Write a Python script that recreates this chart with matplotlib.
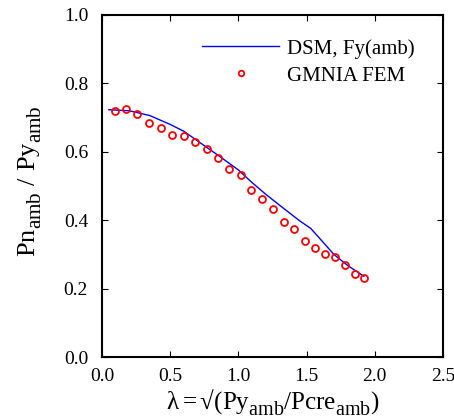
import matplotlib
matplotlib.use("Agg")
import matplotlib.pyplot as plt
import matplotlib._mathtext as _mt

plt.rcParams['font.family'] = ['Liberation Serif', 'DejaVu Serif']
plt.rcParams['mathtext.fontset'] = 'custom'
plt.rcParams['mathtext.rm'] = 'Liberation Serif'
plt.rcParams['mathtext.it'] = 'Liberation Serif'
# larger, lower subscripts (MATLAB-like)
try:
    _mt.SHRINK_FACTOR = 0.8
    _mt.FontConstantsBase.sub1 = 0.55
except Exception:
    pass

dsm_lam = [0.05, 0.2, 0.35, 0.5, 0.6, 0.7, 0.85, 1.0, 1.1, 1.2, 1.33, 1.45, 1.53, 1.6, 1.7, 1.8, 1.92]
dsm_val = [0.723, 0.720, 0.706, 0.680, 0.660, 0.632, 0.590, 0.547, 0.510, 0.476, 0.435, 0.398, 0.376, 0.345, 0.300, 0.268, 0.236]

fem_lam = [0.095, 0.176, 0.26, 0.347, 0.43, 0.516, 0.60, 0.684, 0.77, 0.85, 0.934, 1.017, 1.095,
           1.175, 1.254, 1.332, 1.41, 1.488, 1.56, 1.635, 1.706, 1.78, 1.852, 1.92]
fem_val = [0.720, 0.724, 0.710, 0.683, 0.670, 0.649, 0.646, 0.630, 0.607, 0.582, 0.551, 0.532, 0.489,
           0.461, 0.432, 0.396, 0.374, 0.340, 0.319, 0.301, 0.292, 0.268, 0.243, 0.230]

xticks = [0.0, 0.5, 1.0, 1.5, 2.0, 2.5]
yticks = [0.0, 0.2, 0.4, 0.6, 0.8, 1.0]

fig = plt.figure(figsize=(4.54, 4.18), dpi=100)
ax = fig.add_axes([102/454, 1 - 357/418, (443-102)/454, (357-15)/418])

ax.plot(dsm_lam, dsm_val, color='#0000ff', lw=1.0, label='DSM, Fy(amb)')
ax.plot(fem_lam, fem_val, ls='none', marker='o', ms=5, mfc='none', mec='#ff0000', mew=1.3,
        label='GMNIA FEM')

ax.set_xlim(0, 2.5)
ax.set_ylim(0, 1.0)
ax.set_xticks(xticks)
ax.set_yticks(yticks)
ax.set_xticklabels([f"{t:.1f}" for t in xticks])
ax.set_yticklabels([f"{t:.1f}" for t in yticks])
ax.tick_params(direction='in', top=True, right=True, labelsize=14, length=4, width=0.8, pad=10)
ax.tick_params(axis='x', pad=8)
for s in ax.spines.values():
    s.set_linewidth(1.5)

ax.set_xlabel('$\\mathregular{λ = √(Py_{amb}/Pcre_{amb})}$', fontsize=18)
ax.xaxis.set_label_coords(0.5, -0.088)
ax.set_ylabel(r'$\mathregular{Pn_{amb}\ /\ Py_{amb}}$', fontsize=19)
ax.yaxis.set_label_coords(-0.17, 0.515)

leg = ax.legend(loc='upper left', bbox_to_anchor=(202/454, 1 - 39/418),
                bbox_transform=fig.transFigure, frameon=False, fontsize=15,
                handlelength=3.7, borderaxespad=0, borderpad=0,
                handletextpad=0.4, labelspacing=0.35, markerscale=0.8)

fig.savefig('out.png', dpi=100)
